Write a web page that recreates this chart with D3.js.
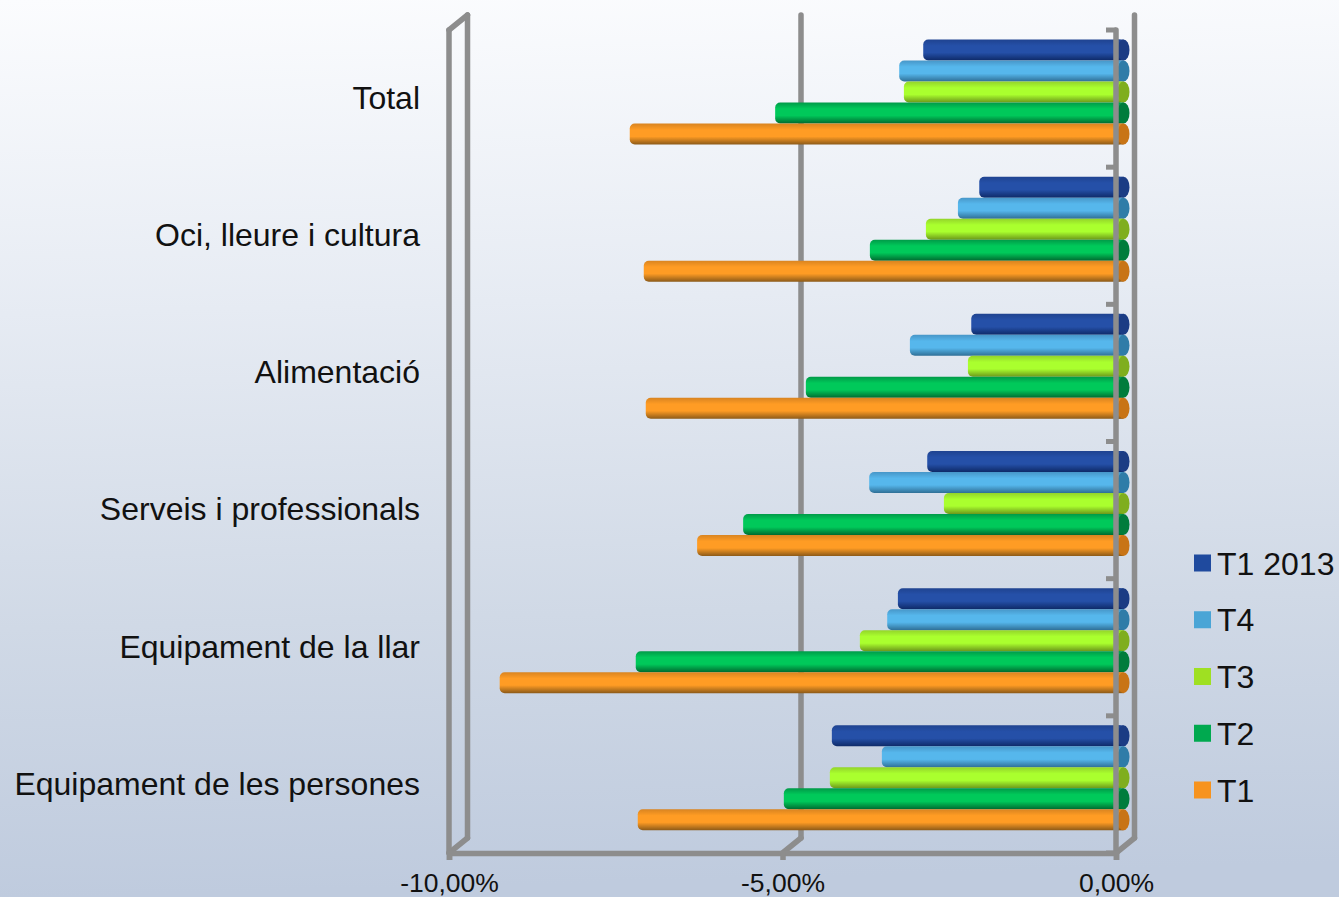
<!DOCTYPE html>
<html><head><meta charset="utf-8">
<script src="https://cdn.jsdelivr.net/npm/d3@7/dist/d3.min.js"></script>
<style>html,body{margin:0;padding:0;overflow:hidden}svg{display:block}text{font-family:"Liberation Sans",Arial,sans-serif;fill:#111}.soft{filter:blur(0.6px)}</style>
</head><body><svg id="c" width="1339" height="897"></svg>
<script>
const categories = ["Total","Oci, lleure i cultura","Alimentació","Serveis i professionals","Equipament de la llar","Equipament de les persones"];
const seriesNames = ["T1 2013","T4","T3","T2","T1"];
const t1_2013 = [-2.98,-2.14,-2.26,-2.92,-3.36,-4.35];
const t4 = [-3.34,-2.46,-3.18,-3.79,-3.52,-3.60];
const t3 = [-3.27,-2.94,-2.31,-2.67,-3.93,-4.38];
const t2 = [-5.20,-3.78,-4.74,-5.68,-7.29,-5.07];
const t1 = [-7.38,-7.17,-7.14,-6.37,-9.33,-7.26];
const seriesValues = [t1_2013,t4,t3,t2,t1];
const xTicks = [-10,-5,0];
const swatch = ["#1f4a9e","#4aa5d6","#9fe022","#00a94f","#f7931e"];
const stops = [
 ["#1f4390","#2550a8","#0e2a68","#1b3c84"],
 ["#4796c8","#56b7ec","#2f6f96","#2f7ca8"],
 ["#93d42a","#aaff2e","#6c981a","#7fae1e"],
 ["#009a48","#00c95a","#006a30","#007c3c"],
 ["#d98420","#ff9c24","#8c5a18","#c87416"]
];
const W=1339,H=897;
const svg=d3.select("#c");
const defs=svg.append("defs");
const bg=defs.append("linearGradient").attr("id","bg").attr("x1",0).attr("y1",0).attr("x2",0.04).attr("y2",1);
[[0,"#fbfcfe"],[0.35,"#e6ebf3"],[0.7,"#d0d9e6"],[1,"#bfcbde"]].forEach(s=>bg.append("stop").attr("offset",s[0]).attr("stop-color",s[1]));
stops.forEach((s,i)=>{
 const g=defs.append("linearGradient").attr("id","b"+i).attr("x1",0).attr("y1",0).attr("x2",0).attr("y2",1);
 [[0,s[0]],[0.3,s[1]],[0.62,s[1]],[1,s[2]]].forEach(p=>g.append("stop").attr("offset",p[0]).attr("stop-color",p[1]));
});
svg.append("rect").attr("width",W).attr("height",H).attr("fill","url(#bg)");

const x=d3.scaleLinear().domain([-10,0]).range([449,1116]);
const y=d3.scaleBand().domain(categories).range([30,853]);
const sub=d3.scaleBand().domain(seriesNames).range([0,105]);
const depthX=18.5,depthY=-15,grey="#8d8d8d",lw=5.5;
const barDX=6,barDY=9.5;
const marks=svg.append("g").attr("class","soft");

// back plane
xTicks.forEach(t=>{
 marks.append("line").attr("x1",x(t)+depthX).attr("x2",x(t)+depthX).attr("y1",853+depthY).attr("y2",30+depthY)
  .attr("stroke",grey).attr("stroke-width",lw).attr("stroke-linecap","round");
});
const connector=(t,y0)=>marks.append("line").attr("x1",x(t)).attr("y1",y0).attr("x2",x(t)+depthX).attr("y2",y0+depthY)
  .attr("stroke",grey).attr("stroke-width",lw).attr("stroke-linecap","round");
connector(-10,30);
xTicks.forEach(t=>connector(t,853));
marks.append("line").attr("x1",x(-10)).attr("x2",x(-10)).attr("y1",30).attr("y2",853).attr("stroke",grey).attr("stroke-width",lw).attr("stroke-linecap","round");

// bars
const rx=6;
seriesNames.forEach((n,si)=>{
 const g=marks.append("g");
 categories.forEach((c,ci)=>{
  const v=seriesValues[si][ci];
  const yy=y(c)+barDY+sub(n), h=sub.bandwidth();
  const x0=x(v)+barDX, x1=x(0)+barDX+1.5;
  g.append("rect").attr("x",x0).attr("y",yy).attr("width",x1-x0).attr("height",h).attr("rx",5).attr("fill","url(#b"+si+")");
  g.append("rect").attr("x",x1-6).attr("y",yy).attr("width",6).attr("height",h).attr("fill","url(#b"+si+")");
  g.append("ellipse").attr("cx",x1).attr("cy",yy+h/2).attr("rx",rx).attr("ry",h/2).attr("fill",stops[si][3]);
 });
});

// front value axis line + ticks
marks.append("line").attr("x1",x(0)).attr("x2",x(0)).attr("y1",30).attr("y2",853).attr("stroke",grey).attr("stroke-width",lw).attr("stroke-linecap","round");
const fmt=d=>d3.format(".2f")(d).replace(".",",").replace("\u2212","-")+"%";
const ax=svg.append("g").attr("transform","translate(0,853)")
 .call(d3.axisBottom(x).tickValues(xTicks).tickFormat(fmt).tickSize(7).tickPadding(13));
ax.select(".domain").attr("stroke",grey).attr("stroke-width",lw);
ax.selectAll(".tick line").attr("stroke",grey).attr("stroke-width",lw);
ax.selectAll("text").style("font-size","26.5px").attr("fill","#111");

// category ticks on the front axis
const edges=categories.map(c=>y(c)).concat([853]);
svg.append("g").selectAll("line").data(edges).join("line")
 .attr("x1",x(0)-10).attr("x2",x(0)).attr("y1",d=>d).attr("y2",d=>d)
 .attr("stroke",grey).attr("stroke-width",5);

// category labels
const ay=svg.append("g").attr("transform","translate(420,0)")
 .call(d3.axisLeft(y).tickSize(0).tickPadding(0));
ay.select(".domain").remove();
ay.selectAll("text").style("font-size","32px").attr("fill","#111");

// legend
const ly=d3.scalePoint().domain(seriesNames).range([563,790]);
const lg=svg.append("g").selectAll("g").data(seriesNames).join("g").attr("transform",d=>`translate(1194,${ly(d)})`);
lg.append("rect").attr("x",0).attr("y",-8.5).attr("width",17).attr("height",17).attr("fill",(d,i)=>swatch[i]);
lg.append("text").attr("x",23).attr("dy","0.36em").style("font-size","32px").text(d=>d);
</script></body></html>
